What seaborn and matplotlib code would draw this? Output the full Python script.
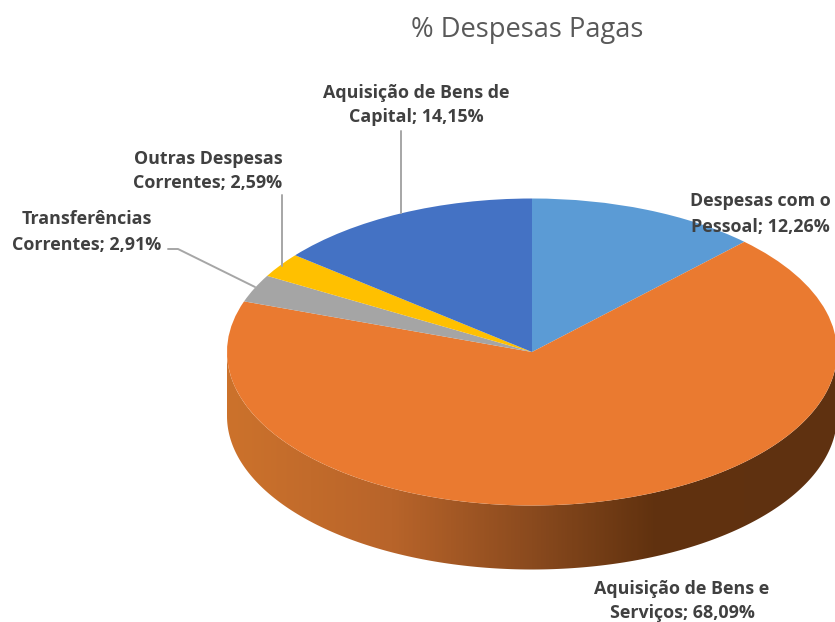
import numpy as np
import matplotlib
matplotlib.use('Agg')
import matplotlib.pyplot as plt
from matplotlib.colors import LinearSegmentedColormap
from matplotlib.patches import Polygon
import seaborn as sns

# chart values
categories = ['Despesas com o\nPessoal', 'Aquisição de Bens e\nServiços', 'Transferências\nCorrentes',
              'Outras Despesas\nCorrentes', 'Aquisição de Bens de\nCapital']
valores = [12.26, 68.09, 2.91, 2.59, 14.15]
cores = ['#5B9BD5', '#EA7A30', '#A5A5A5', '#FFC000', '#4472C4']
titulo = '% Despesas Pagas'

sns.set_theme(style='white')
plt.rcParams['font.family'] = ['Open Sans', 'DejaVu Sans']

W, H = 835, 622
cx, cy, rx, ry, depth = 532, 352, 305, 153.5, 64

fig = plt.figure(figsize=(W / 100, H / 100), dpi=100, facecolor='white')

# pixel axes behind the pie, holds the side wall
ax_px = fig.add_axes([0, 0, 1, 1])
ax_px.set_xlim(0, W)
ax_px.set_ylim(H, 0)
ax_px.axis('off')

t = np.linspace(0, np.pi, 200)
topo = np.column_stack([cx + rx * np.cos(t), cy + ry * np.sin(t)])
base = np.column_stack([cx + rx * np.cos(t[::-1]), cy + depth + ry * np.sin(t[::-1])])
parede = Polygon(np.vstack([topo, base]), closed=True, transform=ax_px.transData, fc='none', ec='none')
ax_px.add_patch(parede)
grad = LinearSegmentedColormap.from_list('parede', [(0, '#CC722C'), (0.27, '#B8642A'), (0.5, '#8A4A1E'),
                                                    (0.7, '#61320F'), (1, '#5F3111')])
img = ax_px.imshow(np.linspace(0, 1, 400)[None, :], cmap=grad, aspect='auto',
                   extent=[cx - rx, cx + rx, H, 0])
img.set_clip_path(parede)
ax_px.set_xlim(0, W)
ax_px.set_ylim(H, 0)

# pie is squashed by using unequal unit sizes on the axes
ax = fig.add_axes([0, 0, 1, 1], zorder=2)
ax.pie(valores, colors=sns.color_palette(cores), startangle=90, counterclock=False,
       wedgeprops={'linewidth': 0})
ax.set_aspect('auto')
ax.set_xlim(-cx / rx, (W - cx) / rx)
ax.set_ylim(-(H - cy) / ry, cy / ry)
ax.patch.set_visible(False)

# leader lines
cor_linha = '#A6A6A6'
ax.plot([401, 401], [131, 213], color=cor_linha, lw=1.4, transform=ax_px.transData, clip_on=False)
ax.plot([282, 282], [195, 266], color=cor_linha, lw=1.4, transform=ax_px.transData, clip_on=False)
ax.plot([168, 178, 255], [249, 249, 287], color=cor_linha, lw=1.4, transform=ax_px.transData, clip_on=False)

# data labels
pos_labels = [(760, 214), (682, 601), (87, 232), (208, 171), (416, 105)]
for nome, v, (x, y) in zip(categories, valores, pos_labels):
    txt = f'{nome}; {v:.2f}%'.replace('.', ',')
    ax.text(x, y, txt, transform=ax_px.transData, ha='center', va='center', fontsize=12.9,
            fontweight='bold', color='#404040', linespacing=1.5, zorder=10)

ax.text(527, 29.5, titulo, transform=ax_px.transData, ha='center', va='center', fontsize=19.6,
        color='#595959', zorder=10)

fig.savefig('out.png', dpi=100)
